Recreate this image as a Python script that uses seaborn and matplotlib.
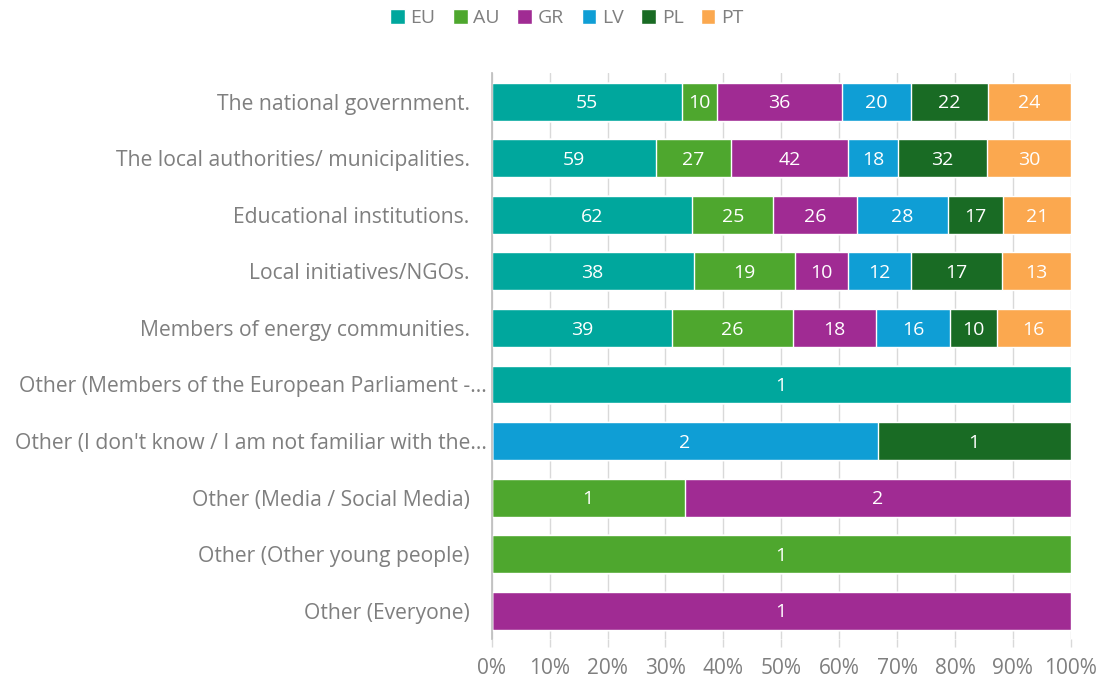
import matplotlib
matplotlib.use("Agg")
import matplotlib.pyplot as plt
import matplotlib.ticker as mtick
import matplotlib.transforms as mtrans
from matplotlib.patches import Patch
import numpy as np
import pandas as pd
import seaborn as sns

categories = ["The national government.",
              "The local authorities/ municipalities.",
              "Educational institutions.",
              "Local initiatives/NGOs.",
              "Members of energy communities.",
              "Other (Members of the European Parliament -...",
              "Other (I don't know / I am not familiar with the...",
              "Other (Media / Social Media)",
              "Other (Other young people)",
              "Other (Everyone)"]
groups = ["EU", "AU", "GR", "LV", "PL", "PT"]
EU = [55, 59, 62, 38, 39, 1, 0, 0, 0, 0]
AU = [10, 27, 25, 19, 26, 0, 0, 1, 1, 0]
GR = [36, 42, 26, 10, 18, 0, 0, 2, 0, 1]
LV = [20, 18, 28, 12, 16, 0, 2, 0, 0, 0]
PL = [22, 32, 17, 17, 10, 0, 1, 0, 0, 0]
PT = [24, 30, 21, 13, 16, 0, 0, 0, 0, 0]
colors = ["#00A79D", "#4EA72E", "#A02B93", "#0F9ED5", "#196B24", "#FBA84F"]

df = pd.DataFrame({"EU": EU, "AU": AU, "GR": GR, "LV": LV, "PL": PL, "PT": PT},
                  index=categories)
pct = df.div(df.sum(axis=1), axis=0)
cum = pct.cumsum(axis=1)

sns.set_theme(style="white")
plt.rcParams["font.family"] = ["Open Sans", "DejaVu Sans"]
grey = "#7F7F7F"

fig = plt.figure(figsize=(11.05, 6.93), dpi=100)
ax = fig.add_axes([0.445, 0.078, 0.524, 0.816])

for g, c in reversed(list(zip(groups, colors))):
    d = pd.DataFrame({"cat": categories, "val": cum[g].values})
    sns.barplot(data=d, y="cat", x="val", color=c, orient="h", width=0.67,
                saturation=1, ax=ax, zorder=2)

for i, cat in enumerate(categories):
    for g in groups:
        v = df.loc[cat, g]
        if v > 0:
            x = cum.loc[cat, g] - pct.loc[cat, g] / 2
            ax.text(x, i + 0.03, str(v), ha="center", va="center", color="white",
                    fontsize=14, zorder=3)

ax.set_xlim(0, 1)
ax.set_ylim(9.5, -0.5)
ax.xaxis.set_major_locator(mtick.MultipleLocator(0.1))
ax.xaxis.set_major_formatter(mtick.PercentFormatter(1.0, decimals=0))
ax.set_xlabel("")
ax.set_ylabel("")
ax.grid(axis="x", color="#D9D9D9", lw=1, zorder=0)
for s in ["top", "right", "bottom"]:
    ax.spines[s].set_visible(False)
ax.spines["left"].set_color("#BFBFBF")
ax.tick_params(axis="x", colors="#D9D9D9", length=6, width=1, labelcolor=grey,
               labelsize=15, pad=8, bottom=True)
ax.tick_params(axis="y", length=0, labelcolor=grey, labelsize=15.2, pad=16)

# long truncated labels sit closer to the axis
for lab in ax.get_yticklabels():
    if lab.get_text().endswith("..."):
        lab.set_transform(lab.get_transform() +
                          mtrans.ScaledTranslation(17 / 100, 0, fig.dpi_scale_trans))

handles = [Patch(facecolor=c, label=g) for g, c in zip(groups, colors)]
fig.legend(handles=handles, loc="upper center", bbox_to_anchor=(0.513, 1.012),
           ncol=6, frameon=False, handlelength=0.75, handleheight=0.75,
           handletextpad=0.3, columnspacing=0.9, labelcolor=grey, fontsize=14)

fig.savefig("out.png", dpi=100)
